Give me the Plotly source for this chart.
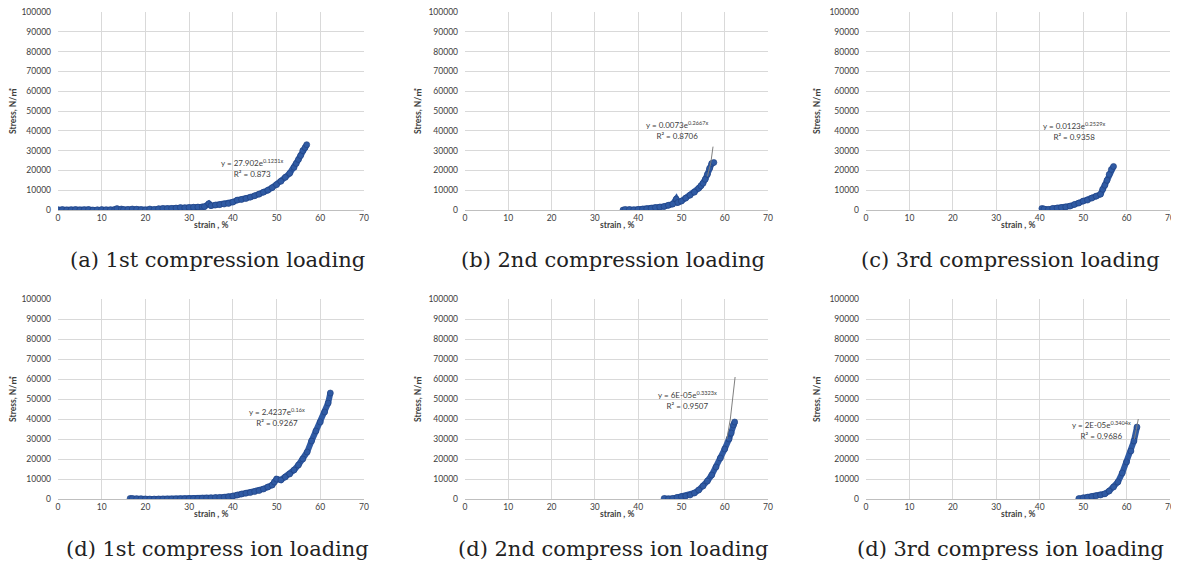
import plotly.graph_objects as go

# ---------------- data ----------------
x_ticks = [0, 10, 20, 30, 40, 50, 60, 70]
y_ticks = [0, 10000, 20000, 30000, 40000, 50000, 60000, 70000, 80000, 90000, 100000]
y_tick_labels = [str(v) for v in y_ticks]

a_strain = [0, 1, 2, 3, 4, 5, 6, 7, 8, 9, 10, 11, 12, 13, 13.5, 14.5, 15, 16, 17, 18, 19, 20, 21, 22, 23, 24, 25, 26, 27, 28, 29, 30,
            31, 32, 33, 33.5, 34.5, 35, 36, 37, 38, 39, 40, 41, 42, 43, 44, 45, 46, 47, 48, 49, 50, 51, 52, 53, 54, 54.5, 55, 55.5,
            56, 56.5, 56.9]
a_stress = [100, 200, 0, 100, 200, 0, 100, 200, 0, 100, 200, 100, 100, 300, 700, 500, 200, 300, 500, 400, 200, 0, 500, 300, 600, 800,
            700, 800, 1000, 1200, 1100, 1300, 1400, 1500, 1600, 1700, 3200, 2200, 2500, 2700, 3000, 3300, 4000, 5000, 5300, 5800, 6500,
            7200, 8000, 9000, 10000, 11300, 12800, 14500, 16500, 18500, 21500, 23500, 25500, 27500, 30000, 31500, 33000]

b_strain = [36.5, 37, 38, 39, 40, 41, 42, 43, 44, 45, 46, 47, 48, 48.8, 49.2, 50, 51, 52, 53, 54, 54.5, 55, 55.5, 56, 56.5, 57, 57.5]
b_stress = [0, 300, 200, 100, 300, 400, 600, 900, 1200, 1500, 1800, 2400, 3000, 5500, 3800, 4500, 6000, 7500, 9000, 11000, 12200,
            13500, 15500, 18000, 21000, 23500, 24000]
b_trend_strain = [56.0, 56.8, 57.3]
b_trend_stress = [17000, 24000, 32000]

c_strain = [40.5, 41, 42, 43, 44, 45, 46, 47, 48, 49, 50, 51, 52, 53, 54, 54.5, 55, 55.5, 56, 56.5, 57]
c_stress = [800, 500, 300, 800, 1000, 1200, 1500, 2000, 2800, 3500, 4500, 5000, 6000, 7000, 8000, 10500, 12500, 15000, 18000, 20500, 22000]

d1_strain = [16.5, 17, 18, 19, 20, 21, 22, 23, 24, 25, 26, 27, 28, 29, 30, 31, 32, 33, 34, 35, 36, 37, 38, 39, 40, 41, 42, 43, 44,
             45, 46, 47, 48, 49, 49.5, 50, 51, 52, 53, 54, 55, 56, 57, 58, 59, 60, 61, 61.8, 62.3]
d1_stress = [300, 200, 100, 100, 0, 0, 0, 0, 0, 0, 0, 50, 100, 150, 200, 250, 300, 400, 500, 600, 700, 800, 900, 1100, 1500, 2000,
             2500, 2900, 3200, 3700, 4200, 5000, 6000, 7000, 8500, 10000, 9500, 11000, 12500, 14500, 17000, 20000, 23500, 29000,
             34000, 38500, 43500, 48000, 53000]

d2_strain = [46, 47, 48, 49, 50, 51, 52, 53, 54, 55, 56, 57, 58, 59, 60, 61, 61.5, 62, 62.3]
d2_stress = [300, 0, 300, 800, 1200, 1500, 2000, 3000, 4500, 6500, 9000, 12000, 16000, 20500, 25000, 30000, 33000, 37000, 38500]
d2_trend_strain = [60.5, 61.3, 62.4]
d2_trend_stress = [30000, 40000, 61000]

d3_strain = [49, 50, 51, 52, 53, 54, 55, 56, 57, 58, 59, 60, 61, 61.7, 62.4]
d3_stress = [200, 600, 900, 1200, 1600, 2000, 2600, 4000, 6000, 8500, 13000, 18500, 24000, 29000, 36000]
d3_trend_strain = [61.8, 62.7]
d3_trend_stress = [30000, 40000]

captions = ["(a) 1st compression loading", "(b) 2nd compression loading", "(c) 3rd compression loading",
            "(d) 1st compress ion loading", "(d) 2nd compress ion loading", "(d) 3rd compress ion loading"]
equations = ["y = 27.902e<sup>0.1231x</sup><br>R² = 0.873",
             "y = 0.0073e<sup>0.2667x</sup><br>R² = 0.8706",
             "y = 0.0123e<sup>0.2529x</sup><br>R² = 0.9358",
             "y = 2.4237e<sup>0.16x</sup><br>R² = 0.9267",
             "y = 6E-05e<sup>0.3323x</sup><br>R² = 0.9507",
             "y = 2E-05e<sup>0.3404x</sup><br>R² = 0.9686"]
eq_pos_x = [44.6, 49.2, 47.9, 50.1, 51.3, 54.3]
eq_pos_y = [21200, 40400, 39900, 41000, 49500, 34300]

series = [(a_strain, a_stress, None, None),
          (b_strain, b_stress, b_trend_strain, b_trend_stress),
          (c_strain, c_stress, None, None),
          (d1_strain, d1_stress, None, None),
          (d2_strain, d2_stress, d2_trend_strain, d2_trend_stress),
          (d3_strain, d3_stress, d3_trend_strain, d3_trend_stress)]

# ---------------- layout ----------------
# page offset: the html body has an 8px margin, so the figure starts at page (8, 8)
OFF = 8
W, H = 1179 - OFF, 570 - 2 * OFF
col_px = [(58, 364), (465, 768), (866, 1170)]
row_px = [(12, 210), (299, 499)]
caption_cx = [217, 613, 1010]
caption_cy = [260, 549]
ytitle_x = [13, 418, 817]


def px_x(p):
    return (p - OFF) / W


def px_y(p):
    return 1 - (p - OFF) / H


BLUE = "#2f5aa3"
TICKFONT = dict(family="Lato, Noto Sans, sans-serif", size=8.5, color="#404040")
TITLEFONT = dict(family="Lato, Noto Sans CJK KR, sans-serif", size=8.5, color="#404040")

fig = go.Figure()
annotations = []
layout = {}

for i, (sx, sy, tx, ty) in enumerate(series):
    r, c = divmod(i, 3)
    k = i + 1
    xa = "x" if k == 1 else f"x{k}"
    ya = "y" if k == 1 else f"y{k}"
    x0, x1 = col_px[c]
    y0, y1 = row_px[r]
    layout["xaxis" if k == 1 else f"xaxis{k}"] = dict(
        domain=[px_x(x0), px_x(x1)], anchor=ya, range=[0, 70], tickvals=x_ticks,
        ticktext=[str(v) for v in x_ticks], ticklabeloverflow="allow",
        showgrid=True, gridcolor="#d9d9d9", gridwidth=1, zeroline=False,
        showline=True, linecolor="#bfbfbf", linewidth=1, ticks="", tickfont=TICKFONT,
        automargin=False, fixedrange=True)
    layout["yaxis" if k == 1 else f"yaxis{k}"] = dict(
        domain=[px_y(y1), px_y(y0)], anchor=xa, range=[0, 100000], tickvals=y_ticks,
        ticktext=y_tick_labels, ticklabelstandoff=6, ticklabeloverflow="allow",
        showgrid=True, gridcolor="#d9d9d9", gridwidth=1, zeroline=False,
        showline=False, ticks="", tickfont=TICKFONT, automargin=False, fixedrange=True)

    fig.add_trace(go.Scatter(x=sx, y=sy, mode="lines+markers", xaxis=xa, yaxis=ya,
                             line=dict(color=BLUE, width=6),
                             marker=dict(color=BLUE, size=6, line=dict(color="#1f3f7f", width=0.6)),
                             showlegend=False, hoverinfo="skip"))
    if tx is not None:
        fig.add_trace(go.Scatter(x=tx, y=ty, mode="lines", xaxis=xa, yaxis=ya,
                                 line=dict(color="#7f7f7f", width=1),
                                 showlegend=False, hoverinfo="skip"))

    annotations.append(dict(text=equations[i], x=eq_pos_x[i], y=eq_pos_y[i], xref=xa, yref=ya,
                            showarrow=False, align="center",
                            font=dict(family="Lato, sans-serif", size=8, color="#404040")))
    # x-axis title
    annotations.append(dict(text="<b>strain , %</b>", x=px_x((x0 + x1) / 2), y=px_y(y1 + 15),
                            xref="paper", yref="paper", showarrow=False, font=TITLEFONT,
                            xanchor="center", yanchor="middle"))
    # y-axis title
    annotations.append(dict(text="<b>Stress, N/㎡</b>", x=px_x(ytitle_x[c]), y=px_y((y0 + y1) / 2),
                            xref="paper", yref="paper", showarrow=False, font=TITLEFONT,
                            textangle=-90, xanchor="center", yanchor="middle"))
    # caption
    annotations.append(dict(text=captions[i], x=px_x(caption_cx[c]), y=px_y(caption_cy[r]),
                            xref="paper", yref="paper", showarrow=False,
                            font=dict(family="DejaVu Serif, Liberation Serif, serif", size=21, color="#222222"),
                            xanchor="center", yanchor="middle"))

fig.update_layout(width=W, height=H, margin=dict(l=0, r=0, t=0, b=0),
                  paper_bgcolor="white", plot_bgcolor="white",
                  annotations=annotations, **layout)

fig.write_html("out.html")
